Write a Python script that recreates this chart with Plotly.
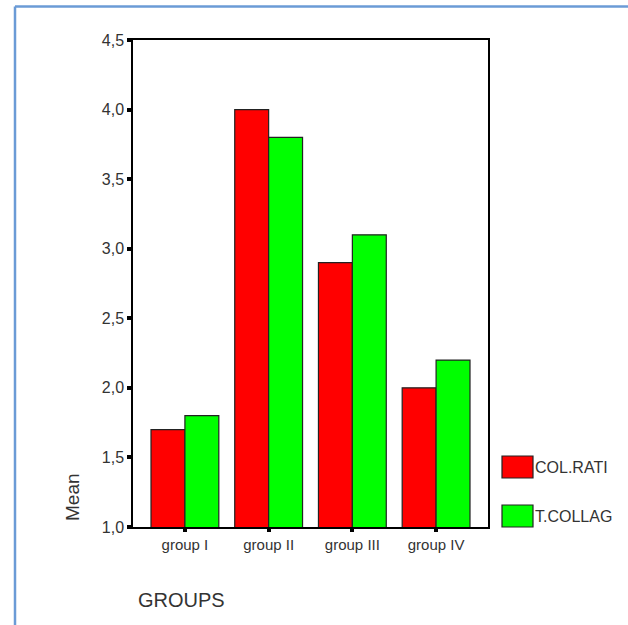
import plotly.graph_objects as go

# ---- data ----
groups = ["group I", "group II", "group III", "group IV"]
series_names = ["COL.RATI", "T.COLLAG"]
col_rati = [1.7, 4.0, 2.9, 2.0]
t_collag = [1.8, 3.8, 3.1, 2.2]
y_ticks = [1.0, 1.5, 2.0, 2.5, 3.0, 3.5, 4.0, 4.5]

W, H = 628, 625
L, R, T, B = 133, 140, 40, 98
PW, PH = W - L - R, H - T - B

def px(x):
    return (x - L) / PW

def py(y):
    return 1 - (y - T) / PH

colors = ["#ff0000", "#00ff00"]
font = "Liberation Sans, Arial, sans-serif"
txt = "#333333"

fig = go.Figure()
for name, vals, c in zip(series_names, [col_rati, t_collag], colors):
    fig.add_trace(go.Bar(
        x=groups, y=vals, name=name,
        marker=dict(color=c, line=dict(color="#222222", width=1.2)),
        showlegend=False,
    ))

fig.update_layout(
    width=W, height=H,
    margin=dict(l=L, r=R, t=T, b=B),
    paper_bgcolor="white", plot_bgcolor="white",
    barmode="group", bargap=0.19, bargroupgap=0,
    separators=",.",
    font=dict(family=font, color=txt, size=15),
)
fig.update_xaxes(
    range=[-0.62, 3.62], showgrid=False, zeroline=False,
    showline=True, linecolor="black", linewidth=1.5, mirror=True,
    ticks="outside", ticklen=3, tickwidth=4, tickcolor="black",
    tickfont=dict(size=15, color=txt),
)
fig.update_yaxes(
    range=[1.0, 4.5], showgrid=False, zeroline=False,
    showline=True, linecolor="black", linewidth=1.5, mirror=True,
    tickmode="array", tickvals=y_ticks, tickformat=".1f",
    ticks="outside", ticklen=4, tickwidth=4, tickcolor="black",
    tickfont=dict(size=16, color=txt),
)

# axis titles
fig.add_annotation(text="Mean", xref="paper", yref="paper",
                   x=px(72), y=py(497), xanchor="center", yanchor="middle",
                   textangle=-90, showarrow=False,
                   font=dict(size=19, color=txt))
fig.add_annotation(text="GROUPS", xref="paper", yref="paper",
                   x=px(181), y=py(600), xanchor="center", yanchor="middle",
                   showarrow=False, font=dict(size=20, color=txt))

# legend
legend_y = [467, 516]
for name, c, yc in zip(series_names, colors, legend_y):
    fig.add_shape(type="rect", xref="paper", yref="paper",
                  x0=px(502), x1=px(533), y0=py(yc - 11), y1=py(yc + 11),
                  fillcolor=c, line=dict(color="#222222", width=1.2))
    fig.add_annotation(text=name, xref="paper", yref="paper",
                       x=px(533), y=py(yc), xanchor="left", yanchor="middle",
                       showarrow=False, font=dict(size=16, color=txt))

# outer blue frame
fig.add_shape(type="line", xref="paper", yref="paper",
              x0=px(15), x1=px(15), y0=py(6.5), y1=py(640),
              line=dict(color="#6b9bd6", width=2.5))
fig.add_shape(type="line", xref="paper", yref="paper",
              x0=px(15), x1=px(640), y0=py(6.5), y1=py(6.5),
              line=dict(color="#6b9bd6", width=2.5))

fig.write_html(
    "out.html",
    config={"displayModeBar": False},
    post_script="document.body.style.margin='0';document.body.style.overflow='hidden';",
)
